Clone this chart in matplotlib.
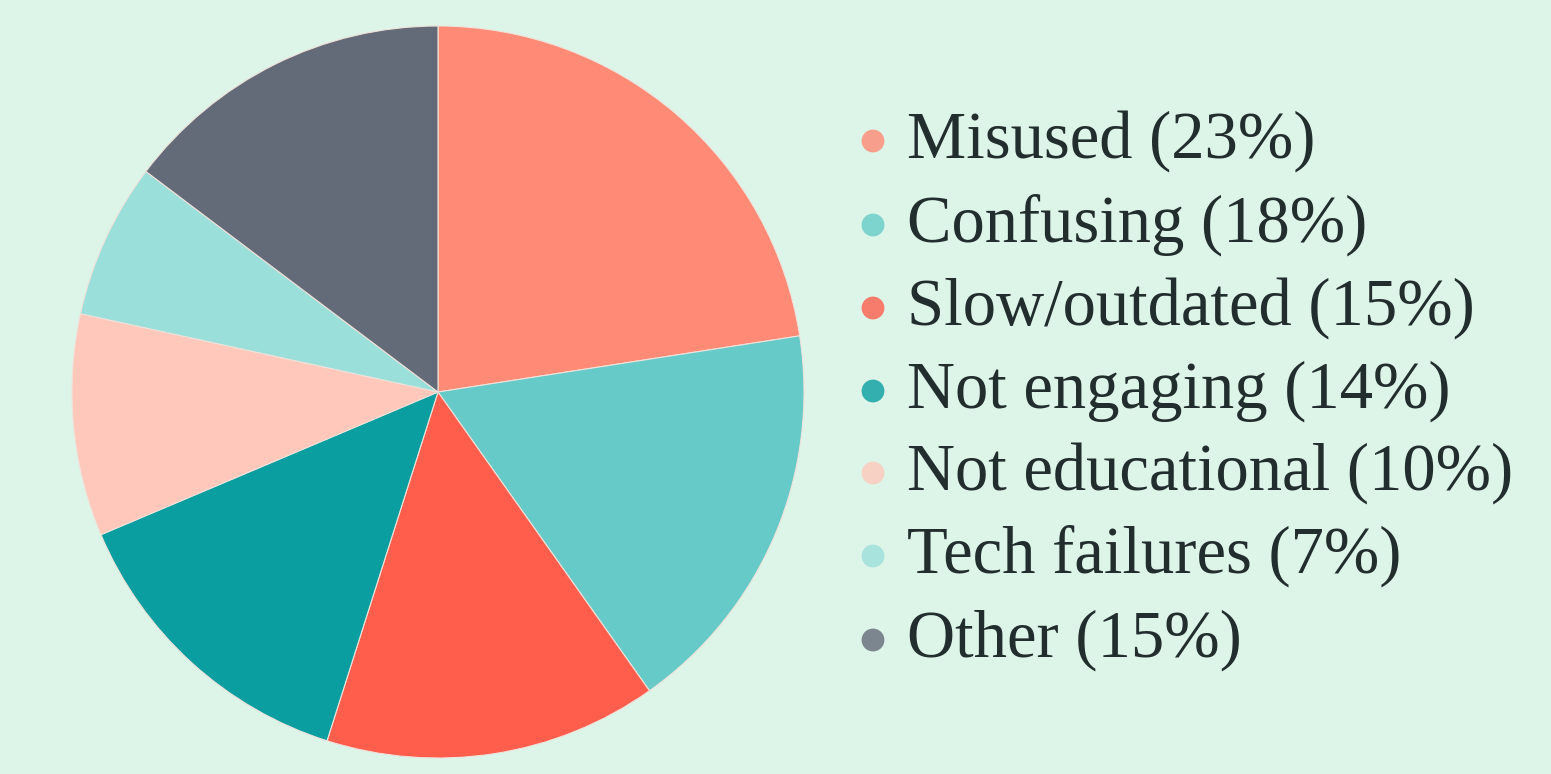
import matplotlib
matplotlib.use("Agg")
import matplotlib.pyplot as plt

labels = ["Misused", "Confusing", "Slow/outdated", "Not engaging",
          "Not educational", "Tech failures", "Other"]
shares = [23, 18, 15, 14, 10, 7, 15]
colors = ["#FF8A75", "#66CBC8", "#FF5E4D", "#0A9EA1",
          "#FFC8BA", "#9BDFDB", "#636A78"]

bg = "#DCF5E8"
plt.rcParams['font.family'] = ['Liberation Serif', 'DejaVu Serif']

fig = plt.figure(figsize=(15.51, 7.74), dpi=100, facecolor=bg)

# pie
ax = fig.add_axes([(438 - 366) / 1551, (774 - 392 - 366) / 774, 732 / 1551, 732 / 774])
ax.set_facecolor(bg)
ax.pie(shares, colors=colors, startangle=90, counterclock=False, radius=1,
       wedgeprops=dict(edgecolor="#F0E2DA", linewidth=0.8))
ax.set_xlim(-1, 1)
ax.set_ylim(-1, 1)
ax.axis("off")

# legend drawn in pixel coordinates
lg = fig.add_axes([0, 0, 1, 1])
lg.set_xlim(0, 1551)
lg.set_ylim(774, 0)
lg.axis("off")
lg.patch.set_alpha(0)
row_y = [141, 225, 308, 391, 473, 556, 640]
for lab, val, col, y in zip(labels, shares, colors, row_y):
    lg.scatter(873, y, s=270, color=col, alpha=0.8, edgecolors="none")
    lg.text(907, y, f"{lab} ({val}%)", fontsize=48, color="#222D2D",
            va="center", ha="left")

fig.savefig("out.png", dpi=100, facecolor=bg)
